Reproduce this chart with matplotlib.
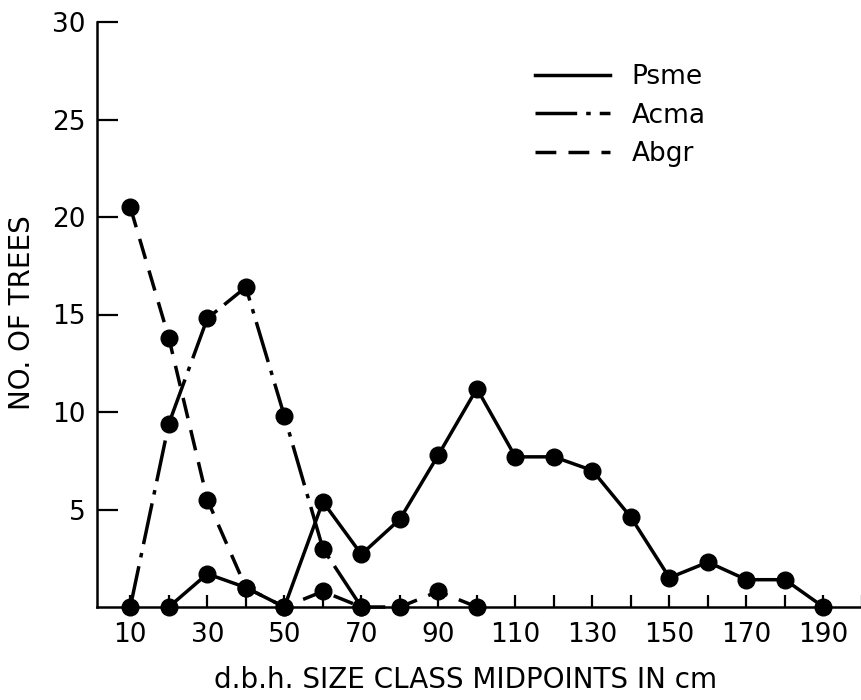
import matplotlib
matplotlib.use("Agg")
import matplotlib.pyplot as plt
from matplotlib.ticker import FixedLocator, NullFormatter

# d.b.h. size class midpoints (cm) and tree counts per species
psme_x = [20, 30, 40, 50, 60, 70, 80, 90, 100, 110, 120, 130, 140, 150, 160, 170, 180, 190]
psme_y = [0, 1.7, 1.0, 0, 5.4, 2.7, 4.5, 7.8, 11.2, 7.7, 7.7, 7.0, 4.6, 1.5, 2.3, 1.4, 1.4, 0]

acma_x = [10, 20, 30, 40, 50, 60, 70]
acma_y = [0, 9.4, 14.8, 16.4, 9.8, 3.0, 0]

abgr_x = [10, 20, 30, 40, 50, 60, 70, 80, 90, 100]
abgr_y = [20.5, 13.8, 5.5, 1.0, 0, 0.8, 0, 0, 0.8, 0]

xtick_major = [10, 30, 50, 70, 90, 110, 130, 150, 170, 190]
xtick_minor = [20, 40, 60, 80, 100, 120, 140, 160, 180, 200]
ytick_vals = [5, 10, 15, 20, 25, 30]

plt.rcParams['font.family'] = ['DejaVu Sans']

fig = plt.figure(figsize=(8.62, 7.0), dpi=100)
ax = fig.add_axes([97 / 862, 93 / 700, 765 / 862, 585 / 700])

lw = 2.5
ms = 12
ax.plot(psme_x, psme_y, color='black', lw=lw, ls='-', marker='o', ms=ms,
        label='Psme', clip_on=False, zorder=3)
ax.plot(acma_x, acma_y, color='black', lw=lw, ls=(0, (12, 2.6, 1.3, 2.6)),
        marker='o', ms=ms, label='Acma', clip_on=False, zorder=3)
ax.plot(abgr_x, abgr_y, color='black', lw=lw, ls=(0, (6, 3.5)),
        marker='o', ms=ms, label='Abgr', clip_on=False, zorder=3)

ax.set_xlim(1.35, 200)
ax.set_ylim(0, 30)

for side in ('top', 'right'):
    ax.spines[side].set_visible(False)
for side in ('left', 'bottom'):
    ax.spines[side].set_linewidth(1.8)

ax.xaxis.set_major_locator(FixedLocator(xtick_major))
ax.xaxis.set_minor_locator(FixedLocator(xtick_minor))
ax.xaxis.set_minor_formatter(NullFormatter())
ax.set_xticklabels([str(v) for v in xtick_major])
ax.tick_params(axis='x', which='both', direction='in', length=9, width=1.6,
               labelsize=19, pad=11)

ax.yaxis.set_major_locator(FixedLocator(ytick_vals))
ax.set_yticklabels([str(v) for v in ytick_vals])
ax.tick_params(axis='y', which='major', direction='in', length=15, width=1.6,
               labelsize=19, pad=8)

fig.text(466 / 862, 1 - 680 / 700, 'd.b.h. SIZE CLASS MIDPOINTS IN cm',
         ha='center', va='center', fontsize=20)
fig.text(22 / 862, 1 - 313 / 700, 'NO. OF TREES', rotation=90,
         ha='center', va='center', fontsize=20)

leg = ax.legend(loc='upper left', bbox_to_anchor=(535 / 862, 1 - 64 / 700),
                bbox_transform=fig.transFigure, frameon=False, fontsize=19,
                handlelength=2.85, handletextpad=0.8, labelspacing=0.48,
                borderpad=0, borderaxespad=0)
for h in leg.get_lines():
    h.set_marker('')

fig.savefig('out.png', dpi=100)
